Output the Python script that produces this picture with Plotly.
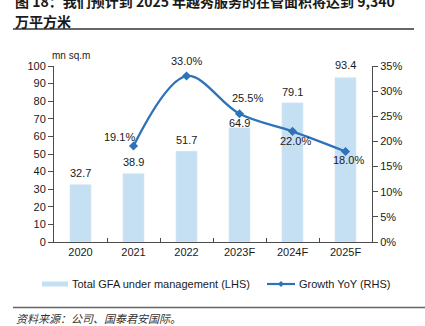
import plotly.graph_objects as go

# Data
years = ["2020", "2021", "2022", "2023F", "2024F", "2025F"]
gfa = [32.7, 38.9, 51.7, 64.9, 79.1, 93.4]          # mn sq.m (LHS)
growth_years = ["2021", "2022", "2023F", "2024F", "2025F"]
growth = [19.1, 33.0, 25.5, 22.0, 18.0]              # % YoY (RHS)
left_ticks = list(range(0, 101, 10))
right_ticks = list(range(0, 36, 5))
right_labels = [f"{v}%" for v in right_ticks]

BAR = "#C6E0F3"
LINE = "#2E72B8"
TXT = "#1A1A1A"
AX = "#4D4D4D"
FONT = "Liberation Sans, Arial, sans-serif"
CJK = "Noto Sans CJK SC, sans-serif"

W, H = 425, 326
L, R, T, B = 54, 53, 66, 84
PW, PH = W - L - R, H - T - B


def px(x):
    return (x - L) / PW


def py(y):
    return (H - B - y) / PH


fig = go.Figure()
fig.add_trace(go.Bar(x=years, y=gfa, marker_color=BAR, width=0.4,
                     name="Total GFA under management (LHS)", showlegend=False))
fig.add_trace(go.Scatter(x=growth_years, y=growth, yaxis="y2", mode="lines+markers",
                         line=dict(color=LINE, width=2.3, shape="spline", smoothing=1.0),
                         marker=dict(symbol="diamond", size=7, color=LINE),
                         name="Growth YoY (RHS)", showlegend=False))

ann = []
# bar value labels (category index used as x position)
bar_shift = [11.5, 11.5, 11, 5, 11, 12.5]
for x, v, s in zip(years, gfa, bar_shift):
    ann.append(dict(x=years.index(x), y=v, xref="x", yref="y", text=f"{v:.1f}", showarrow=False,
                    xanchor="center", yanchor="middle", yshift=s,
                    font=dict(size=11, color=TXT, family=FONT)))
# growth labels
g_shift = [(-14, 9), (0, 15), (8, 16), (3, -10), (3, -9)]
for x, v, (sx, sy) in zip(growth_years, growth, g_shift):
    ann.append(dict(x=years.index(x), y=v, xref="x", yref="y2", text=f"{v:.1f}%", showarrow=False,
                    xshift=sx, yshift=sy, xanchor="center", yanchor="middle",
                    font=dict(size=11, color=TXT, family=FONT)))
# unit label
ann.append(dict(x=px(71), y=py(55), xref="paper", yref="paper", text="mn sq.m",
                xanchor="center", yanchor="middle",
                showarrow=False, font=dict(size=10, color=TXT, family=FONT)))
# title
ann.append(dict(x=px(13), y=py(1), xref="paper", yref="paper", xanchor="left", yanchor="middle",
                text="图 18：我们预计到 2025 年越秀服务的在管面积将达到 9,340",
                showarrow=False, font=dict(size=14, color=TXT, family=CJK, weight="bold")))
ann.append(dict(x=px(13), y=py(21), xref="paper", yref="paper", xanchor="left", yanchor="middle",
                text="万平方米", showarrow=False,
                font=dict(size=14, color=TXT, family=CJK, weight="bold")))
# legend texts
ann.append(dict(x=px(70), y=py(284), xref="paper", yref="paper", xanchor="left", yanchor="middle",
                text="Total GFA under management (LHS)", showarrow=False,
                font=dict(size=11, color=TXT, family=FONT)))
ann.append(dict(x=px(297), y=py(284), xref="paper", yref="paper", xanchor="left", yanchor="middle",
                text="Growth YoY (RHS)", showarrow=False,
                font=dict(size=11, color=TXT, family=FONT)))
# source
ann.append(dict(x=px(14), y=py(318), xref="paper", yref="paper", xanchor="left", yanchor="middle",
                text="<i>资料来源：公司、国泰君安国际。</i>", showarrow=False,
                font=dict(size=11, color="#333333", family=CJK)))

shapes = [
    dict(type="line", xref="paper", yref="paper", x0=px(13), x1=px(414), y0=py(29), y1=py(29),
         line=dict(color="#333333", width=1.5)),
    dict(type="line", xref="paper", yref="paper", x0=px(13), x1=px(425), y0=py(307.5), y1=py(307.5),
         line=dict(color="#666666", width=1.5)),
    # legend swatches
    dict(type="rect", xref="paper", yref="paper", x0=px(42), x1=px(68), y0=py(286.5), y1=py(281.5),
         fillcolor=BAR, line=dict(width=0)),
    dict(type="line", xref="paper", yref="paper", x0=px(267), x1=px(295), y0=py(284), y1=py(284),
         line=dict(color=LINE, width=2.2)),
    dict(type="path", xref="paper", yref="paper",
         path=f"M {px(278)},{py(284)} L {px(281)},{py(281)} L {px(284)},{py(284)} L {px(281)},{py(287)} Z",
         fillcolor=LINE, line=dict(width=0)),
]

fig.update_layout(
    width=W, height=H, margin=dict(l=L, r=R, t=T, b=B),
    paper_bgcolor="white", plot_bgcolor="white",
    font=dict(family=FONT, size=11, color=TXT),
    showlegend=False, bargap=0.6,
    xaxis=dict(type="category", categoryorder="array", categoryarray=years,
               range=[-0.5, 5.5], showline=True, linecolor=AX, linewidth=1,
               ticks="inside", tickson="boundaries", ticklen=4, tickcolor=AX,
               showgrid=False, zeroline=False, tickfont=dict(size=11, color=TXT)),
    yaxis=dict(range=[0, 100], tickvals=left_ticks, showline=True, linecolor=AX, linewidth=1,
               ticks="outside", ticklen=5, tickcolor=AX, showgrid=False, zeroline=False,
               tickfont=dict(size=11, color=TXT)),
    yaxis2=dict(range=[0, 35], tickvals=right_ticks, ticktext=right_labels,
                overlaying="y", side="right",
                showline=True, linecolor=AX, linewidth=1, ticks="outside", ticklen=5,
                tickcolor=AX, showgrid=False, zeroline=False, tickfont=dict(size=11, color=TXT)),
    annotations=ann, shapes=shapes,
)

fig.write_html("out.html")
